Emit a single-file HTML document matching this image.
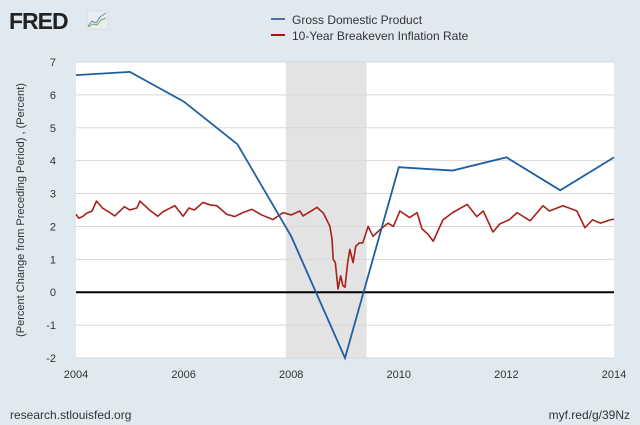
<!DOCTYPE html>
<html><head><meta charset="utf-8"><style>
body{margin:0;background:#e1e9f0;font-family:"Liberation Sans",sans-serif;}
svg{display:block}
</style></head><body>
<svg width="640" height="425">
<rect width="640" height="425" fill="#e1e9f0"/>
<g>
<text x="9" y="29" font-size="23" font-weight="bold" fill="#222" letter-spacing="-1">FRED</text>
<rect x="87" y="11" width="21" height="18" fill="#e8eef2" stroke="#ccc" stroke-width="0.5"/>
<polyline points="88,26 92,21 96,23 100,17 106,13" fill="none" stroke="#5a8fc0" stroke-width="1"/>
<polyline points="88,27 93,24 97,25 101,20 106,18" fill="none" stroke="#7aa840" stroke-width="1"/>
</g>
<g>
<line x1="271" y1="19" x2="285" y2="19" stroke="#4572a7" stroke-width="2"/>
<text x="292" y="24" font-size="12" fill="#333">Gross Domestic Product</text>
<line x1="271" y1="35" x2="285" y2="35" stroke="#aa1111" stroke-width="2"/>
<text x="292" y="40" font-size="12" fill="#333">10-Year Breakeven Inflation Rate</text>
</g>
<rect x="76" y="62" width="538" height="296" fill="#fff"/>
<g id="rec"></g><g id="grid"></g><g id="series"></g><g id="axes"></g>
<text transform="translate(24,210) rotate(-90)" text-anchor="middle" font-size="11" fill="#333">(Percent Change from Preceding Period) , (Percent)</text>
<text x="10" y="419" font-size="12" fill="#333">research.stlouisfed.org</text>
<text x="630" y="419" text-anchor="end" font-size="12" fill="#333">myf.red/g/39Nz</text>
</svg>
<script>
const yTicks=[-2,-1,0,1,2,3,4,5,6,7];
const xTicks=[2004,2006,2008,2010,2012,2014];
const recession=[2007.9,2009.4];
const gdpYears=[2004,2005,2006,2007,2008,2009,2010,2011,2012,2013,2014];
const gdpValues=[6.6,6.7,5.8,4.5,1.7,-2.0,3.8,3.7,4.1,3.1,4.1];
const beDates=[2004.0,2004.05,2004.12,2004.2,2004.3,2004.38,2004.5,2004.6,2004.72,2004.9,2005.0,2005.13,2005.19,2005.3,2005.38,2005.52,2005.62,2005.75,2005.84,2005.99,2006.1,2006.2,2006.36,2006.5,2006.62,2006.8,2006.95,2007.1,2007.27,2007.45,2007.66,2007.85,2008.0,2008.16,2008.22,2008.35,2008.48,2008.6,2008.67,2008.72,2008.76,2008.78,2008.82,2008.87,2008.92,2008.96,2009.0,2009.05,2009.09,2009.15,2009.2,2009.27,2009.33,2009.43,2009.52,2009.65,2009.8,2009.9,2010.02,2010.2,2010.34,2010.43,2010.55,2010.64,2010.82,2011.0,2011.27,2011.45,2011.57,2011.75,2011.88,2012.05,2012.2,2012.44,2012.68,2012.8,2013.05,2013.31,2013.46,2013.6,2013.75,2013.93,2014.0];
const beValues=[2.37,2.25,2.3,2.4,2.47,2.77,2.55,2.45,2.32,2.6,2.5,2.56,2.77,2.6,2.48,2.31,2.45,2.56,2.63,2.31,2.56,2.5,2.73,2.65,2.63,2.37,2.3,2.42,2.52,2.35,2.21,2.42,2.35,2.47,2.32,2.45,2.58,2.4,2.17,2.0,1.6,1.0,0.9,0.1,0.5,0.2,0.15,0.9,1.3,0.9,1.4,1.5,1.5,2.0,1.7,1.9,2.1,2.0,2.47,2.27,2.42,1.93,1.75,1.55,2.2,2.42,2.67,2.3,2.47,1.83,2.08,2.2,2.42,2.17,2.63,2.47,2.63,2.47,1.96,2.2,2.1,2.2,2.22];
const X0=76,X1=614,Y0=358,Y1=62;
const xs=v=>X0+(v-2004)/10*(X1-X0);
const ys=v=>Y0-(v+2)/9*(Y0-Y1);
const NS='http://www.w3.org/2000/svg';
function mk(tag,attrs,parent){const e=document.createElementNS(NS,tag);for(const k in attrs)e.setAttribute(k,attrs[k]);document.getElementById(parent).appendChild(e);return e;}
yTicks.forEach(t=>{
  const l=mk('line',{x1:X0,x2:X1,y1:ys(t),y2:ys(t),stroke:t===0?'#000':'#d8d8d8','stroke-width':t===0?2:1},'grid');
  
  
  const tx=mk('text',{x:56,y:ys(t)+4,'text-anchor':'end','font-size':11,fill:'#333'},'axes');
  tx.textContent=t;
  
  
});
xTicks.forEach(t=>{
  const tx=mk('text',{x:xs(t),y:378,'text-anchor':'middle','font-size':11,fill:'#333'},'axes');
  tx.textContent=t;
  
  
});
const r=mk('rect',{x:xs(recession[0]),y:Y1,width:xs(recession[1])-xs(recession[0]),height:Y0-Y1,fill:'#e3e3e3'},'rec');


const be=mk('polyline',{points:beDates.map((d,i)=>xs(d)+','+ys(beValues[i])).join(' '),fill:'none',stroke:'#a8201a','stroke-width':1.6,'stroke-linejoin':'round'},'series');


const g=mk('polyline',{points:gdpYears.map((d,i)=>xs(d)+','+ys(gdpValues[i])).join(' '),fill:'none',stroke:'#1f5fa0','stroke-width':1.8},'series');


</script>
</body></html>
